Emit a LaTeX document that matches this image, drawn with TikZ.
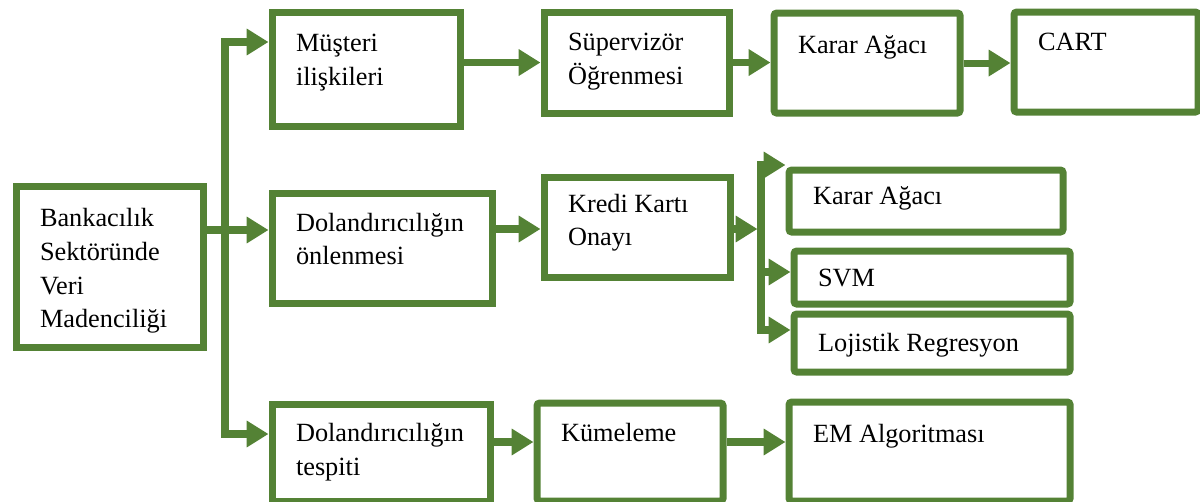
\documentclass[tikz,border=0pt]{standalone}
\usepackage{fontspec}
\setmainfont{Liberation Serif}
\usetikzlibrary{arrows.meta}
\definecolor{boxgreen}{RGB}{84,130,53}
\hyphenpenalty=10000
\tikzset{box/.style={draw=boxgreen,line width=5pt,anchor=north west,align=flush left,inner xsep=0.6cm,inner ysep=0pt,text height=0.75cm,font=\fontsize{18.7}{24}\selectfont},
  rbox/.style={box,rounded corners=2pt},
  link/.style={draw=boxgreen,line width=5pt}}

\begin{document}
\begin{tikzpicture}[x=0.025cm,y=-0.025cm,>={Triangle[length=15.5pt,width=18pt]}]
    \useasboundingbox (0,0) rectangle (1200,501);
    % boxes
    \node[box,text width=3.475cm,minimum height=4.025cm,text depth=2.75cm] (bank) at (12.5,182.5) {Bankacılık\\Sektöründe\\Veri\\Madenciliği};
    \node[box,text width=3.5cm,minimum height=2.85cm,text depth=1.625cm] (musteri) at (268.5,8.5) {Müşteri\\ilişkileri};
    \node[box,text width=4.3cm,minimum height=2.75cm,text depth=1.6cm] (onlem) at (268.5,189.5) {Dolandırıcılığın\\önlenmesi};
    \node[box,text width=4.25cm,minimum height=2.425cm,text depth=1.3cm] (tespit) at (268.5,400.5) {Dolandırıcılığın\\tespiti};
    \node[box,text width=3.425cm,minimum height=2.525cm,text depth=1.35cm] (super) at (540.5,8.5) {Süpervizör\\Öğrenmesi};
    \node[box,text width=3.45cm,minimum height=2.5cm,text depth=1.5cm] (kredi) at (540.5,173.5) {Kredi Kartı\\Onayı};
    \node[rbox,text width=3.45cm,minimum height=2.45cm,text depth=1.275cm] (kume) at (533.5,399.5) {Kümeleme};
    \node[rbox,text width=3.45cm,minimum height=2.5cm,text depth=1.225cm] (karar1) at (770.5,9.5) {Karar Ağacı};
    \node[rbox,text width=3.4cm,minimum height=2.5cm,text depth=1.325cm] (cart) at (1010.5,8.5) {CART};
    \node[rbox,text width=5.65cm,minimum height=1.55cm,text depth=0.575cm] (karar2) at (785.5,166.5) {Karar Ağacı};
    \node[rbox,text width=5.7cm,minimum height=1.325cm,text depth=0.3cm] (svm) at (790.5,247.5) {SVM};
    \node[rbox,text width=5.7cm,minimum height=1.45cm,text depth=0.325cm] (lojistik) at (790.5,310.5) {Lojistik Regresyon};
    \node[rbox,text width=5.825cm,minimum height=2.475cm,text depth=1.2cm] (em) at (785.5,398.5) {EM Algoritması};
    % branch points
    \coordinate (split) at (225,230);
    \coordinate (tr1) at (225,42);
    \coordinate (tr2) at (225,434);
    \coordinate (ks) at (761,229);
    \coordinate (kt) at (761,165);
    \coordinate (kv) at (761,272);
    \coordinate (kb) at (761,330);
    \coordinate (r3) at (510,442);
    % connectors
    \draw[link,->] (bank.east |- split) -- (onlem.west |- split);
    \draw[link,<->] (musteri.west |- tr1) -- (tr1) -- (tr2) -- (tespit.west |- tr2);
    \draw[link,->] (musteri.east |- super.west) -- (super.west);
    \draw[link,->] (super.east) -- (karar1.west |- super.east);
    \draw[link,->] (karar1.east) -- (cart.west |- karar1.east);
    \draw[link,->] (onlem.east |- ks) -- (kredi.west |- ks);
    \draw[link,->,shorten >=2.5pt] (kredi.east |- ks) -- (ks);
    \draw[link,<->] (karar2.west |- kt) -- (kt) -- (kb) -- (lojistik.west |- kb);
    \draw[link,->] (kv) -- (svm.west |- kv);
    \draw[link,->] (tespit.east |- r3) -- (kume.west |- r3);
    \draw[link,->] (kume.east |- r3) -- (em.west |- r3);
\end{tikzpicture}
\end{document}
